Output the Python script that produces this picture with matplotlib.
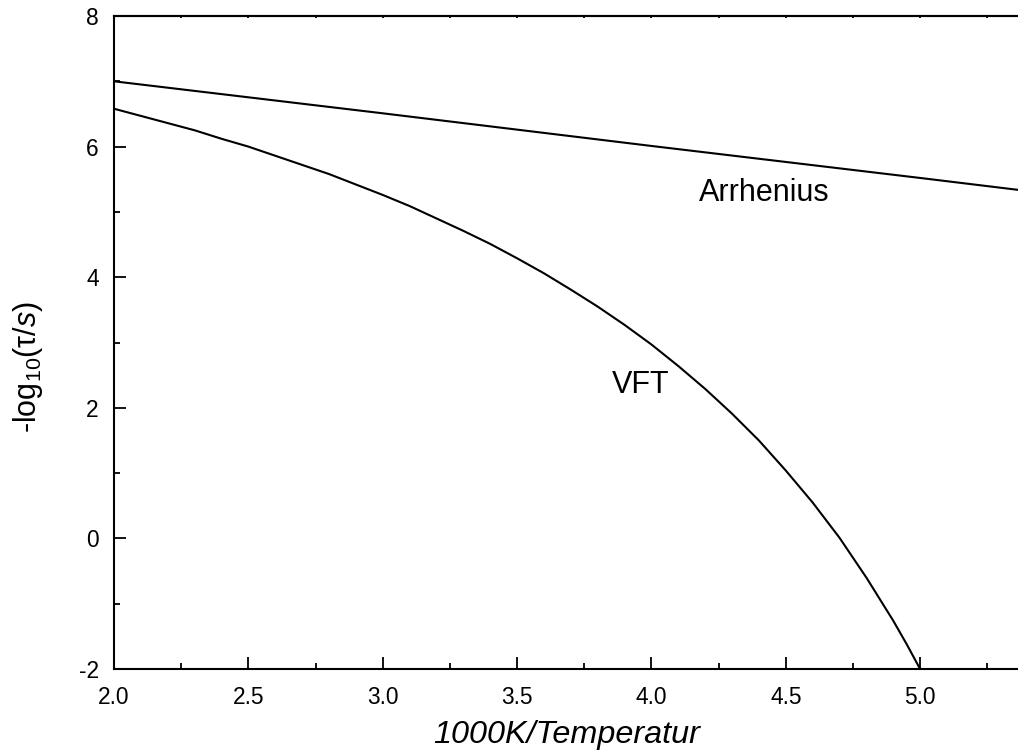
import numpy as np
import matplotlib
matplotlib.use('Agg')
from matplotlib import pyplot as plt
from matplotlib.ticker import MultipleLocator, FormatStrFormatter

plt.rcParams['font.family'] = ['Liberation Sans', 'DejaVu Sans']
plt.rcParams['mathtext.fontset'] = 'custom'
plt.rcParams['mathtext.rm'] = 'Liberation Sans'
plt.rcParams['mathtext.it'] = 'Liberation Sans:italic'

# values
arr_x = [2.0, 3.0, 4.0, 5.0, 5.4]
arr_y = [7.00, 6.51, 6.01, 5.52, 5.32]

vft_x = [2.0, 2.1, 2.2, 2.3, 2.4, 2.5, 2.6, 2.7, 2.8, 2.9,
         3.0, 3.1, 3.2, 3.3, 3.4, 3.5, 3.6, 3.7, 3.8, 3.9,
         4.0, 4.1, 4.2, 4.3, 4.4, 4.5, 4.6, 4.7, 4.8, 4.9, 4.95, 5.0]
vft_y = [6.58, 6.47, 6.36, 6.25, 6.12, 6.00, 5.86, 5.72, 5.58, 5.42,
         5.26, 5.09, 4.90, 4.71, 4.51, 4.29, 4.06, 3.81, 3.55, 3.27,
         2.97, 2.64, 2.29, 1.91, 1.50, 1.04, 0.55, 0.01, -0.60, -1.26, -1.62, -2.0]

fig = plt.figure(figsize=(10.18, 7.55), dpi=100)
ax = fig.add_axes([0.112, 0.1139, 0.8895, 0.8649])

ax.plot(arr_x, arr_y, color='black', lw=1.5)
ax.plot(vft_x, vft_y, color='black', lw=1.5)

ax.text(4.42, 5.29, 'Arrhenius', fontsize=22, ha='center', va='center')
ax.text(3.96, 2.35, 'VFT', fontsize=22, ha='center', va='center')

ax.set_xlim(2.0, 5.37)
ax.set_ylim(-2, 8)
ax.xaxis.set_major_locator(MultipleLocator(0.5))
ax.xaxis.set_minor_locator(MultipleLocator(0.25))
ax.yaxis.set_major_locator(MultipleLocator(2))
ax.yaxis.set_minor_locator(MultipleLocator(1))
ax.xaxis.set_major_formatter(FormatStrFormatter('%.1f'))
ax.yaxis.set_major_formatter(FormatStrFormatter('%d'))

ax.tick_params(which='both', direction='in', width=1.3, labelsize=16.4)
ax.tick_params(which='major', length=8.6)
ax.tick_params(which='minor', length=4.3)
ax.tick_params(axis='x', which='major', pad=12)
ax.tick_params(axis='y', which='major', pad=11)
for s in ax.spines.values():
    s.set_linewidth(1.5)

# tiny ticks on the top frame
top = ax.secondary_xaxis('top')
top.xaxis.set_major_locator(MultipleLocator(0.25))
top.tick_params(direction='in', length=1.5, width=1.3, labeltop=False)
top.spines['top'].set_linewidth(1.5)

ax.set_xlabel('1000K/Temperatur', fontsize=23.3, style='italic', labelpad=8)
ax.set_ylabel(r'-log$_{\mathrm{10}}$(τ/$s$)', fontsize=22, ha='center')
ax.yaxis.set_label_coords(-0.076, 0.462)

fig.savefig('out.png', dpi=100)
